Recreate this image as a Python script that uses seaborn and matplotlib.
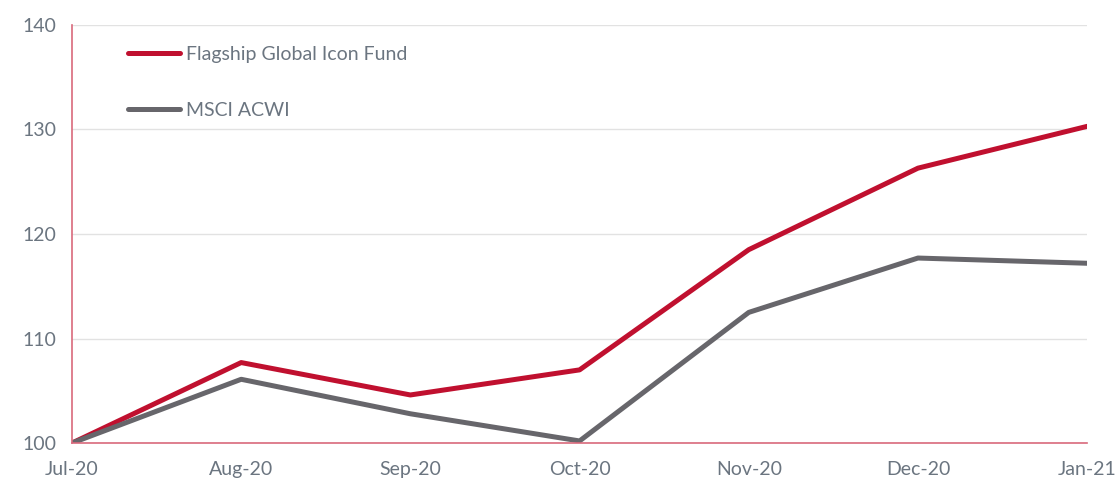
import pandas as pd
import matplotlib.pyplot as plt
import seaborn as sns

# Data
months = ["Jul-20", "Aug-20", "Sep-20", "Oct-20", "Nov-20", "Dec-20", "Jan-21"]
fund = [100.0, 107.7, 104.6, 107.0, 118.5, 126.3, 130.3]
msci = [100.0, 106.1, 102.8, 100.2, 112.5, 117.7, 117.2]
series_names = ["Flagship Global Icon Fund", "MSCI ACWI"]
colors = ["#c0102f", "#67666b"]

sns.set_style("white")
plt.rcParams["font.family"] = ["Lato", "DejaVu Sans"]

df = pd.DataFrame({
    "month": months * 2,
    "value": fund + msci,
    "series": [series_names[0]] * len(months) + [series_names[1]] * len(months),
})

fig = plt.figure(figsize=(11.18, 4.8), dpi=100)
ax = fig.add_axes([0.0644, 0.077, 0.908, 0.871])

sns.lineplot(data=df, x="month", y="value", hue="series",
             palette=colors, linewidth=3.6, ax=ax, sort=False)
for ln in ax.get_lines():
    ln.set_solid_capstyle("round")

ax.set_xlim(0, len(months) - 1)
ax.set_ylim(100, 140)
ax.set_yticks([100, 110, 120, 130, 140])
ax.set_xlabel("")
ax.set_ylabel("")

ax.grid(axis="y", color="#e2e2e2", linewidth=1)
ax.set_axisbelow(True)

spine_col = "#d9697c"
for side in ["top", "right"]:
    ax.spines[side].set_visible(False)
for side in ["left", "bottom"]:
    ax.spines[side].set_color(spine_col)
    ax.spines[side].set_linewidth(1.2)

label_col = "#6b7580"
ax.tick_params(axis="y", direction="out", length=5, color=spine_col,
               labelcolor=label_col, labelsize=14, pad=6)
ax.tick_params(axis="x", direction="in", length=6, color=spine_col,
               labelcolor=label_col, labelsize=14, pad=13)
for lbl in ax.get_xticklabels():
    lbl.set_clip_on(False)

leg = ax.legend(loc="upper left", bbox_to_anchor=(0.055, 0.95), frameon=False,
                fontsize=14, handlelength=2.7, handletextpad=0.3,
                labelspacing=2.0, borderpad=0, borderaxespad=0)
for txt in leg.get_texts():
    txt.set_color(label_col)
for h in leg.get_lines():
    h.set_solid_capstyle("round")

fig.savefig("out.png", dpi=100)
